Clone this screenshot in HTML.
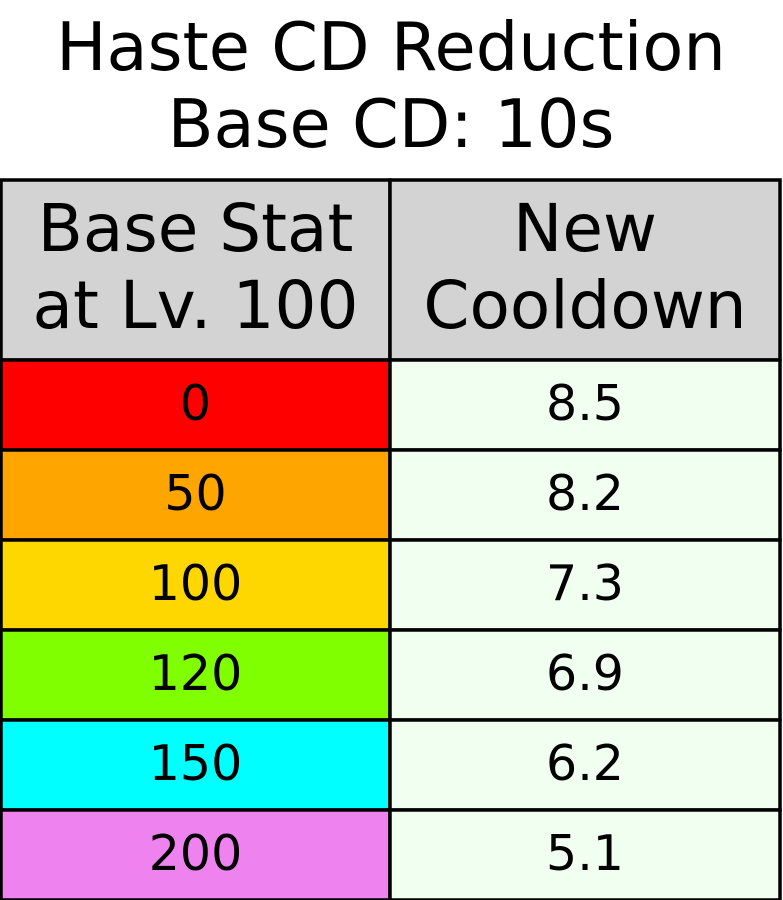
<!DOCTYPE html>
<html>
<head>
<meta charset="utf-8">
<style>
  html,body{margin:0;padding:0;background:#fff;}
  svg{display:block;}
  text{font-family:"DejaVu Sans","Liberation Sans",sans-serif;fill:#000;}
</style>
</head>
<body>
<svg id="chart" width="783" height="900" viewBox="0 0 783 900" xmlns="http://www.w3.org/2000/svg">
  <text x="391" y="70" font-size="67" text-anchor="middle">Haste CD Reduction</text>
  <text x="391" y="147" font-size="67" text-anchor="middle">Base CD: 10s</text>
  <g id="tbl"></g>
</svg>
<script>
const baseStats = ["0","50","100","120","150","200"];
const cooldowns = ["8.5","8.2","7.3","6.9","6.2","5.1"];
const rowColors = ["#ff0000","#ffa500","#ffd700","#7fff00","#00ffff","#ee82ee"];
const headers = [["Base Stat","at Lv. 100"],["New","Cooldown"]];

const NS = "http://www.w3.org/2000/svg";
const tblG = document.getElementById("tbl");
const xLeft = 1, xMid = 390, xRight = 780, tableTop = 180, headH = 180, rowH = 90;
function mk(tag, attrs){ const e=document.createElementNS(NS,tag); for(const k in attrs) e.setAttribute(k,attrs[k]); tblG.appendChild(e); return e; }

[0,1].forEach(c=>{
  const x0 = c===0?xLeft:xMid, x1 = c===0?xMid:xRight;
  const r = mk("rect",{x:x0,y:tableTop,width:x1-x0,height:headH,fill:"#d3d3d3",stroke:"#000","stroke-width":3.5});
  
  
  headers[c].forEach((line,i)=>{
    const t = mk("text",{x:(x0+x1)/2,y:tableTop+71+i*77,"font-size":66,"text-anchor":"middle"});
    t.textContent = line;
    
    
  });
});

baseStats.forEach((s,i)=>{
  const y = tableTop+headH+i*rowH;
  const r1 = mk("rect",{x:xLeft,y:y,width:xMid-xLeft,height:rowH,fill:rowColors[i],stroke:"#000","stroke-width":3.5});
  
  
  const r2 = mk("rect",{x:xMid,y:y,width:xRight-xMid,height:rowH,fill:"#f0fff0",stroke:"#000","stroke-width":3.5});
  
  
  const t1 = mk("text",{x:(xLeft+xMid)/2,y:y+60,"font-size":49,"text-anchor":"middle"});
  t1.textContent = s;
  
  
  const t2 = mk("text",{x:(xMid+xRight)/2,y:y+60,"font-size":49,"text-anchor":"middle"});
  t2.textContent = cooldowns[i];
  
  
});
</script>
</body>
</html>
